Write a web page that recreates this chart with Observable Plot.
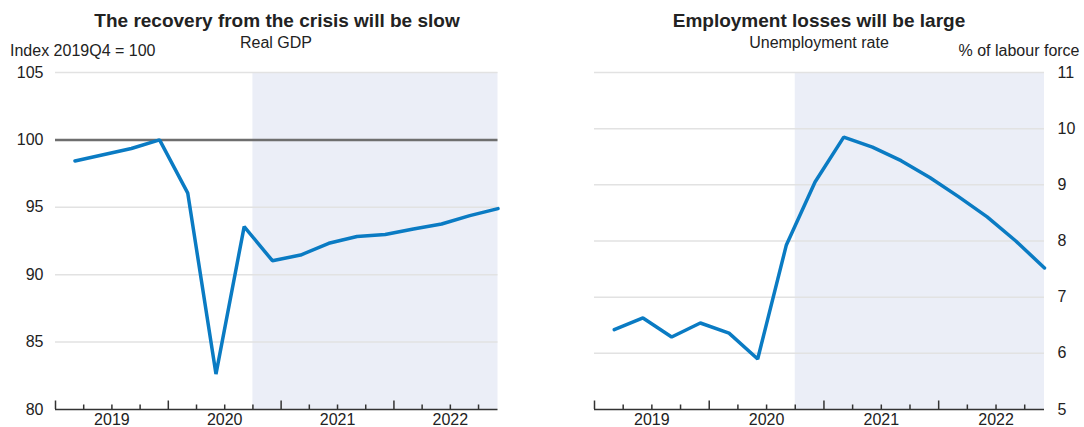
<!DOCTYPE html>
<html><head><meta charset="utf-8">
<script src="https://cdn.jsdelivr.net/npm/d3@7"></script>
<script src="https://cdn.jsdelivr.net/npm/@observablehq/plot@0.6"></script>
<style>
body{margin:0;background:#fff;font-family:"Liberation Sans",Arial,sans-serif;color:#222}
#wrap{position:relative;width:1084px;height:427px;overflow:hidden}
.t{position:absolute;white-space:nowrap;line-height:1;font-size:16px}
.title{font-weight:bold;font-size:19px;transform:translateX(-50%)}
.sub{transform:translateX(-50%)}
svg{position:absolute;top:0}
</style></head><body><div id="wrap">
<div class="t title" style="left:277px;top:11px">The recovery from the crisis will be slow</div>
<div class="t sub" style="left:276px;top:34.5px">Real GDP</div>
<div class="t" style="left:10px;top:42.5px">Index 2019Q4 = 100</div>
<div class="t title" style="left:819px;top:11px">Employment losses will be large</div>
<div class="t sub" style="left:819px;top:35px">Unemployment rate</div>
<div class="t" style="right:4.5px;top:43px">% of labour force</div>
</div>
<script>
const quarters = ["2019Q1","2019Q2","2019Q3","2019Q4","2020Q1","2020Q2","2020Q3","2020Q4","2021Q1","2021Q2","2021Q3","2021Q4","2022Q1","2022Q2","2022Q3","2022Q4"];
const gdp = [98.44, 98.9, 99.36, 100.0, 96.05, 82.63, 93.57, 91.04, 91.46, 92.33, 92.83, 92.98, 93.39, 93.76, 94.38, 94.9];
const unemp = [6.42, 6.63, 6.29, 6.54, 6.36, 5.90, 7.93, 9.05, 9.85, 9.67, 9.43, 9.13, 8.79, 8.43, 8.0, 7.52];
const years = ["2019","2020","2021","2022"];
const gdpTicks = [80, 85, 90, 95, 100, 105];
const unempTicks = [5, 6, 7, 8, 9, 10, 11];

const OFFSET = -0.69;   // axis starts before first quarter
const SHADE = 6.31;     // projection shading start
const BLUE = "#0a7bc3";

function panel({values, yDomain, yTicks, grid, ref, anchor, width, marginLeft, marginRight, tickPadding}) {
  const rows = quarters.map((q, i) => ({q, i, v: values[i]}));
  const bounds = d3.range(16).map(k => k + OFFSET);
  const major = bounds.filter((_, k) => k % 4 === 0);
  const minor = bounds.filter((_, k) => k % 4 !== 0);
  const labelPos = years.map((_, j) => OFFSET + 4 * j + 2);
  const last = quarters.length - 1;
  const marks = [
    Plot.rect([0], {x1: SHADE, x2: last, y1: yDomain[0], y2: yDomain[1], fill: "#ebeef7"}),
    Plot.ruleY(grid, {stroke: "#e2e2e2", strokeWidth: 1.5}),
  ];
  if (ref != null) marks.push(Plot.ruleY([ref], {stroke: "#6e6e6e", strokeWidth: 2.5}));
  marks.push(
    Plot.line(rows, {x: "i", y: "v", stroke: BLUE, strokeWidth: 3.5, strokeLinejoin: "miter"}),
    Plot.ruleY([yDomain[0]], {stroke: "#333", strokeWidth: 1.5}),
    Plot.axisX(major, {tickSize: -8.5, tickFormat: () => "", stroke: "#333", strokeWidth: 1.5, label: null}),
    Plot.axisX(minor, {tickSize: -4.5, tickFormat: () => "", stroke: "#333", strokeWidth: 1.5, label: null}),
    Plot.axisX(labelPos, {tickSize: 0, tickPadding: 4, tickFormat: d => years[Math.round((d - OFFSET - 2) / 4)], fill: "#222", label: null}),
    Plot.axisY(yTicks, {anchor, tickSize: 0, tickPadding, tickFormat: d => String(d), fill: "#222", label: null})
  );
  return Plot.plot({
    width, height: 427,
    marginTop: 72, marginBottom: 18, marginLeft, marginRight,
    style: {fontFamily: '"Liberation Sans", Arial, sans-serif', fontSize: "16px", color: "#222", background: "transparent", overflow: "visible"},
    x: {domain: [OFFSET, last]},
    y: {domain: yDomain},
    marks
  });
}

const wrap = document.getElementById("wrap");
const left = panel({values: gdp, yDomain: [80, 105], yTicks: gdpTicks, grid: gdpTicks.filter(t => t !== 80 && t !== 100), ref: 100,
  anchor: "left", width: 540, marginLeft: 55, marginRight: 42.5, tickPadding: 12});
left.style.left = "0px";
wrap.appendChild(left);
const right = panel({values: unemp, yDomain: [5, 11], yTicks: unempTicks, grid: unempTicks.filter(t => t !== 5), ref: null,
  anchor: "right", width: 544, marginLeft: 54, marginRight: 40, tickPadding: 13});
right.style.left = "540px";
wrap.appendChild(right);
</script></body></html>
